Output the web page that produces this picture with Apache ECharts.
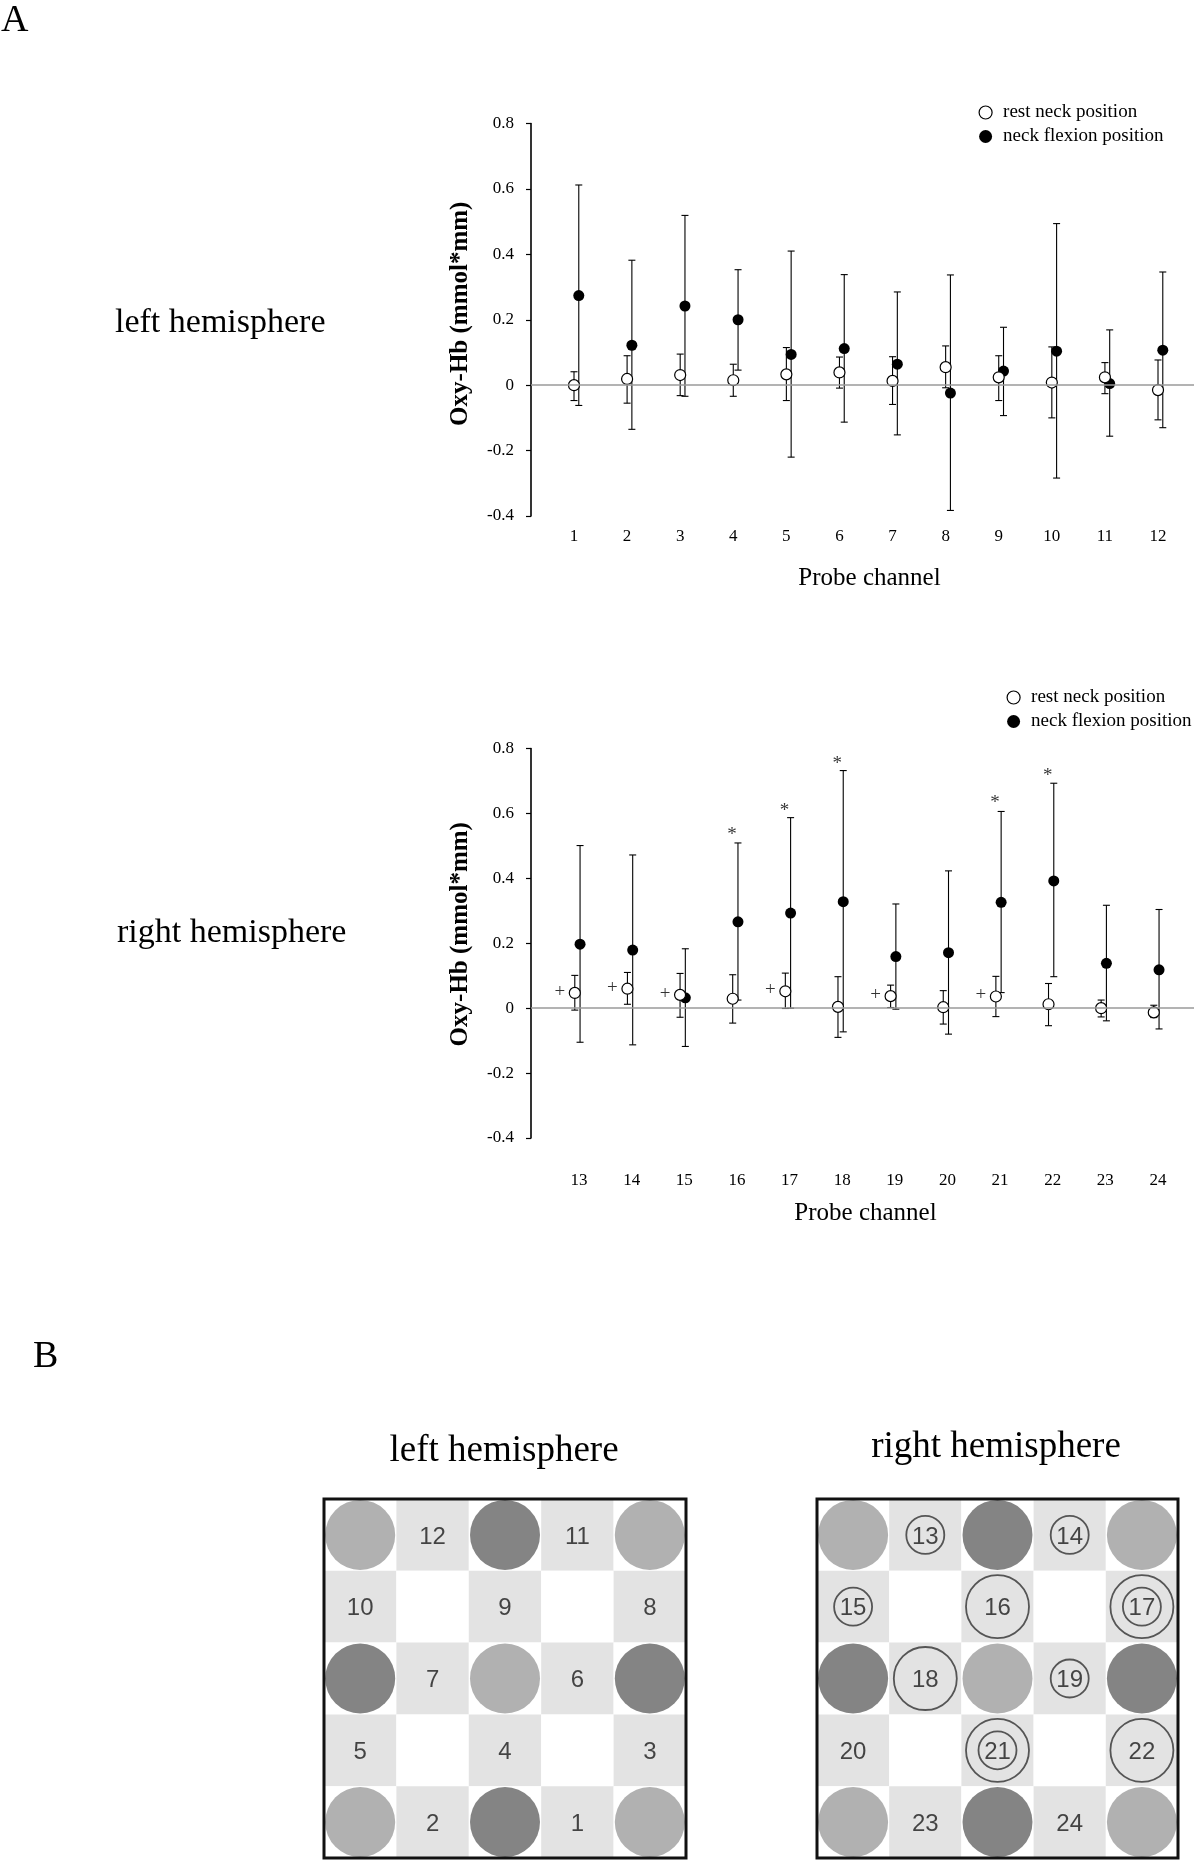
<!DOCTYPE html>
<html>
<head>
<meta charset="utf-8">
<script src="https://cdn.jsdelivr.net/npm/echarts@6/dist/echarts.min.js"></script>
<style>
  html, body { margin: 0; padding: 0; background: #fff; }
  #chart { width: 1200px; height: 1872px; }
</style>
</head>
<body>
<div id="chart"></div>
<script>
// ---- data ----
const leftChannels = [1, 2, 3, 4, 5, 6, 7, 8, 9, 10, 11, 12];
const leftRestMean = [0.0, 0.019, 0.031, 0.015, 0.033, 0.039, 0.013, 0.055, 0.024, 0.008, 0.024, -0.015];
const leftRestLow  = [-0.047, -0.055, -0.032, -0.034, -0.047, -0.009, -0.059, -0.008, -0.047, -0.1, -0.026, -0.106];
const leftRestHigh = [0.041, 0.09, 0.095, 0.064, 0.115, 0.086, 0.087, 0.12, 0.09, 0.117, 0.069, 0.077];
const leftFlexMean = [0.274, 0.122, 0.242, 0.2, 0.094, 0.112, 0.064, -0.024, 0.043, 0.104, 0.005, 0.107];
const leftFlexLow  = [-0.062, -0.135, -0.034, 0.046, -0.22, -0.113, -0.152, -0.383, -0.093, -0.284, -0.156, -0.13];
const leftFlexHigh = [0.612, 0.382, 0.519, 0.353, 0.41, 0.338, 0.285, 0.337, 0.177, 0.494, 0.169, 0.346];

const rightChannels = [13, 14, 15, 16, 17, 18, 19, 20, 21, 22, 23, 24];
const rightRestMean = [0.047, 0.06, 0.041, 0.029, 0.052, 0.004, 0.037, 0.003, 0.036, 0.012, 0.0, -0.013];
const rightRestLow  = [-0.006, 0.012, -0.028, -0.046, -0.001, -0.09, 0.002, -0.049, -0.026, -0.054, -0.027, -0.029];
const rightRestHigh = [0.101, 0.11, 0.107, 0.103, 0.108, 0.097, 0.071, 0.054, 0.098, 0.076, 0.025, 0.009];
const rightFlexMean = [0.197, 0.179, 0.032, 0.266, 0.293, 0.328, 0.159, 0.171, 0.326, 0.392, 0.138, 0.118];
const rightFlexLow  = [-0.105, -0.113, -0.118, 0.025, 0.0, -0.073, -0.003, -0.08, 0.048, 0.097, -0.039, -0.064];
const rightFlexHigh = [0.501, 0.472, 0.183, 0.509, 0.587, 0.732, 0.321, 0.423, 0.606, 0.693, 0.317, 0.304];

const plusChannels = [13, 14, 15, 17, 19, 21];       // "+" trend
const starChannels = [16, 17, 18, 21, 22];           // "*" significant
const starY = [0.546, 0.621, 0.766, 0.645, 0.729];

const yTicks = [-0.4, -0.2, 0, 0.2, 0.4, 0.6, 0.8];

// probe layout (rows top->bottom, cols left->right), 0 = no channel
const leftProbeLayout  = [[0, 12, 0, 11, 0], [10, 0, 9, 0, 8], [0, 7, 0, 6, 0], [5, 0, 4, 0, 3], [0, 2, 0, 1, 0]];
const rightProbeLayout = [[0, 13, 0, 14, 0], [15, 0, 16, 0, 17], [0, 18, 0, 19, 0], [20, 0, 21, 0, 22], [0, 23, 0, 24, 0]];
// optodes: 1 = light, 2 = dark
const optodeLayout = [[1, 0, 2, 0, 1], [0, 0, 0, 0, 0], [2, 0, 1, 0, 2], [0, 0, 0, 0, 0], [1, 0, 2, 0, 1]];

// ---- helpers ----
const serif = "'Liberation Serif', 'Times New Roman', serif";
const sans = "'Liberation Sans', Arial, sans-serif";

function errorBars(chans, dx, lo, hi) {
  return chans.map((c, i) => [c + dx, lo[i], hi[i]]);
}

function errorBarSeries(idx, rows) {
  return {
    type: 'custom', xAxisIndex: idx, yAxisIndex: idx, z: 2, silent: true,
    data: rows,
    encode: { x: 0, y: [1, 2] },
    renderItem(params, api) {
      const x = api.value(0);
      const a = api.coord([x, api.value(1)]);
      const b = api.coord([x, api.value(2)]);
      const w = 3.5;
      const st = { stroke: '#000', lineWidth: 1.1 };
      return {
        type: 'group', children: [
          { type: 'line', shape: { x1: a[0], y1: a[1], x2: b[0], y2: b[1] }, style: st },
          { type: 'line', shape: { x1: a[0] - w, y1: a[1], x2: a[0] + w, y2: a[1] }, style: st },
          { type: 'line', shape: { x1: b[0] - w, y1: b[1], x2: b[0] + w, y2: b[1] }, style: st }
        ]
      };
    }
  };
}

function meanChartSeries(idx, chans, restDx, flexDx, rMean, rLo, rHi, fMean, fLo, fHi) {
  const bars = errorBars(chans, restDx, rLo, rHi).concat(errorBars(chans, flexDx, fLo, fHi));
  return [
    errorBarSeries(idx, bars),
    {
      name: 'neck flexion position', type: 'scatter', xAxisIndex: idx, yAxisIndex: idx, z: 3,
      symbol: 'circle', symbolSize: 11, itemStyle: { color: '#000', opacity: 1 },
      data: chans.map((c, i) => [c + flexDx, fMean[i]]),
      markLine: {
        silent: true, symbol: 'none', label: { show: false },
        lineStyle: { color: '#9a9a9a', width: 1.6, type: 'solid' },
        data: [{ yAxis: 0 }]
      }
    },
    {
      name: 'rest neck position', type: 'scatter', xAxisIndex: idx, yAxisIndex: idx, z: 4,
      symbol: 'circle', symbolSize: 11,
      itemStyle: { color: '#fff', borderColor: '#000', borderWidth: 1.2, opacity: 1 },
      data: chans.map((c, i) => [c + restDx, rMean[i]])
    }
  ];
}

function valueXAxis(idx, min, max, chans, margin, nameGap, nameShift) {
  return {
    type: 'value', gridIndex: idx, min, max,
    name: 'Probe channel', nameLocation: 'middle', nameGap,
    nameTextStyle: { fontFamily: serif, fontSize: 25, color: '#000', padding: [0, 0, 0, nameShift] },
    axisLine: { show: false, onZero: false }, axisTick: { show: false }, splitLine: { show: false },
    axisLabel: { customValues: chans, fontFamily: serif, fontSize: 17, color: '#000', margin }
  };
}

function valueYAxis(idx, nameShift) {
  return {
    type: 'value', gridIndex: idx, min: -0.4, max: 0.8, interval: 0.2,
    name: 'Oxy-Hb (mmol*mm)', nameLocation: 'middle', nameGap: 58, nameRotate: 90,
    nameTextStyle: {
      fontFamily: serif, fontSize: 25, fontWeight: 'bold', color: '#000',
      padding: [0, 0, 0, nameShift]
    },
    axisLine: { show: true, onZero: false, lineStyle: { color: '#000', width: 1.6 } },
    axisTick: { show: true, length: 5, lineStyle: { color: '#000', width: 1.2 } },
    splitLine: { show: false },
    axisLabel: {
      customValues: yTicks, fontFamily: serif, fontSize: 17, color: '#000', margin: 17,
      formatter: v => (Math.abs(v) < 1e-9 ? '0' : String(Math.round(v * 10) / 10))
    }
  };
}

function cellOf(layout, ch) {
  for (let r = 0; r < layout.length; r++)
    for (let c = 0; c < layout[r].length; c++)
      if (layout[r][c] === ch) return [c, r];
  return null;
}

function probeSeries(idx, layout, smallRing, largeRing) {
  const cells = [], optodes = [], numbers = [];
  for (let r = 0; r < 5; r++) {
    for (let c = 0; c < 5; c++) {
      cells.push([c, r, layout[r][c] ? 1 : 0]);
      if (optodeLayout[r][c]) optodes.push([c, r, optodeLayout[r][c]]);
      if (layout[r][c]) numbers.push([c, r, layout[r][c]]);
    }
  }
  const base = { xAxisIndex: idx, yAxisIndex: idx, silent: true };
  const list = [
    Object.assign({}, base, {
      type: 'custom', z: 1, data: cells, encode: { x: 0, y: 1 },
      renderItem(params, api) {
        const p = api.coord([api.value(0), api.value(1)]);
        const s = api.size([1, 1]);
        return {
          type: 'rect',
          shape: { x: p[0] - s[0] / 2, y: p[1] - s[1] / 2, width: s[0], height: s[1] },
          style: { fill: api.value(2) ? '#e3e3e3' : '#ffffff' }
        };
      }
    }),
    Object.assign({}, base, {
      type: 'scatter', z: 2, symbol: 'circle', symbolSize: 70, data: optodes,
      itemStyle: { opacity: 1, color: p => (p.data[2] === 2 ? '#848484' : '#b1b1b1') }
    }),
    Object.assign({}, base, {
      type: 'scatter', z: 4, symbol: 'circle', symbolSize: 1, data: numbers,
      itemStyle: { color: 'transparent' },
      label: {
        show: true, position: 'inside', formatter: p => String(p.data[2]),
        fontFamily: sans, fontSize: 24, color: '#1a1a1a', offset: [0, 2]
      }
    }),
    Object.assign({}, base, {
      type: 'custom', z: 6, data: [[0, 0]], encode: { x: 0, y: 1 },
      renderItem(params) {
        const cs = params.coordSys;
        return {
          type: 'rect', shape: { x: cs.x, y: cs.y, width: cs.width, height: cs.height },
          style: { fill: 'none', stroke: '#111', lineWidth: 3 }
        };
      }
    })
  ];
  const ringStyle = { color: 'transparent', borderColor: '#555', borderWidth: 1.8, opacity: 1 };
  if (smallRing) {
    list.push(Object.assign({}, base, {
      type: 'scatter', z: 5, symbol: 'circle', symbolSize: 38, itemStyle: ringStyle,
      data: smallRing.map(ch => cellOf(layout, ch))
    }));
  }
  if (largeRing) {
    list.push(Object.assign({}, base, {
      type: 'scatter', z: 5, symbol: 'circle', symbolSize: 63, itemStyle: ringStyle,
      data: largeRing.map(ch => cellOf(layout, ch))
    }));
  }
  return list;
}

function catAxis(idx, inverse) {
  return { type: 'category', gridIndex: idx, data: [0, 1, 2, 3, 4], inverse: !!inverse, show: false };
}

function legendAt(left, top) {
  return {
    left, top, orient: 'vertical', itemWidth: 25, itemHeight: 13, itemGap: 5,
    selectedMode: false,
    textStyle: { fontFamily: serif, fontSize: 19, color: '#000' },
    data: [
      { name: 'rest neck position', icon: 'circle', itemStyle: { color: '#fff', borderColor: '#000', borderWidth: 1.2 } },
      { name: 'neck flexion position', icon: 'circle', itemStyle: { color: '#000' } }
    ]
  };
}

function label(text, x, y, size, align) {
  return {
    type: 'text', x, y, silent: true,
    style: {
      text, fill: '#000', font: size + 'px ' + serif,
      align: align || 'left', verticalAlign: 'middle',
      textAlign: align || 'left', textVerticalAlign: 'middle'
    }
  };
}

// ---- chart ----
const chart = echarts.init(document.getElementById('chart'), null, { renderer: 'canvas' });

const series = []
  .concat(meanChartSeries(0, leftChannels, 0, 0.09, leftRestMean, leftRestLow, leftRestHigh, leftFlexMean, leftFlexLow, leftFlexHigh))
  .concat(meanChartSeries(1, rightChannels, -0.08, 0.02, rightRestMean, rightRestLow, rightRestHigh, rightFlexMean, rightFlexLow, rightFlexHigh))
  .concat([
    {
      type: 'scatter', xAxisIndex: 1, yAxisIndex: 1, z: 5, silent: true, symbolSize: 1,
      itemStyle: { color: 'transparent' },
      data: plusChannels.map(ch => [ch - 0.08, rightRestMean[rightChannels.indexOf(ch)]]),
      label: { show: true, position: 'inside', formatter: '+', offset: [-15, -1], fontFamily: serif, fontSize: 19, color: '#000' }
    },
    {
      type: 'scatter', xAxisIndex: 1, yAxisIndex: 1, z: 5, silent: true, symbolSize: 1,
      itemStyle: { color: 'transparent' },
      data: starChannels.map((ch, i) => [ch, starY[i]]),
      label: { show: true, position: 'inside', formatter: '*', offset: [-5, 4], fontFamily: serif, fontSize: 19, color: '#000' }
    }
  ])
  .concat(probeSeries(2, leftProbeLayout, null, null))
  .concat(probeSeries(3, rightProbeLayout, plusChannels, starChannels));

chart.setOption({
  backgroundColor: '#fff',
  animation: false,
  grid: [
    { left: 531, top: 123.5, width: 663, height: 392.5 },
    { left: 531, top: 748.5, width: 663, height: 389.5 },
    { left: 324, top: 1499, width: 362, height: 359 },
    { left: 817, top: 1499, width: 361, height: 359 }
  ],
  xAxis: [
    valueXAxis(0, 0.19, 12.678, leftChannels, 12, 50, 14),
    valueXAxis(1, 12.088, 24.684, rightChannels, 34, 63, 6),
    catAxis(2), catAxis(3)
  ],
  yAxis: [valueYAxis(0, 12), valueYAxis(1, 18), catAxis(2, true), catAxis(3, true)],
  legend: [legendAt(973.5, 98), legendAt(1001.5, 683)],
  graphic: [
    label('A', 1, 21, 38),
    label('left hemisphere', 115, 323, 34),
    label('right hemisphere', 117, 933, 34),
    label('B', 33, 1357, 38),
    label('left hemisphere', 504, 1451, 37, 'center'),
    label('right hemisphere', 996, 1447, 37, 'center')
  ],
  series
});
</script>
</body>
</html>
